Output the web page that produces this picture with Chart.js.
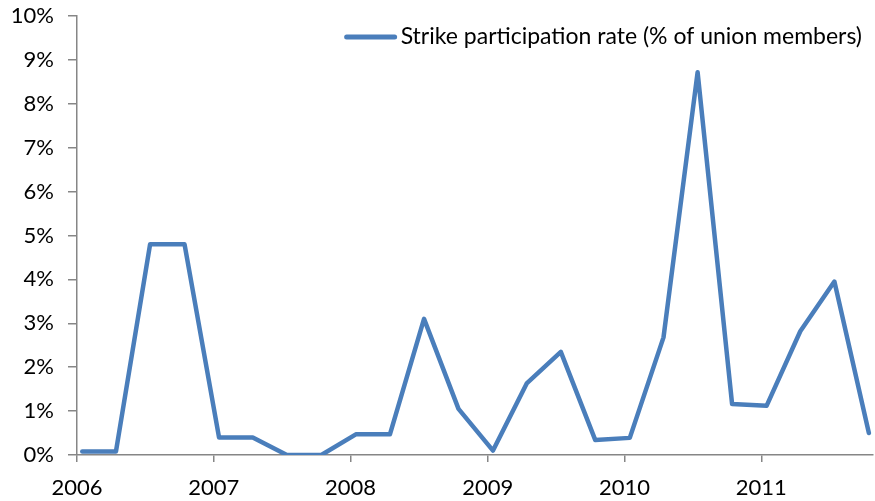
<!DOCTYPE html>
<html>
<head>
<meta charset="utf-8">
<script src="https://cdn.jsdelivr.net/npm/chart.js@4/dist/chart.umd.min.js"></script>
<style>
  html, body { margin: 0; padding: 0; background: #fff; }
  #wrap { width: 875px; height: 501px; position: relative; }
</style>
</head>
<body>
<div id="wrap"><canvas id="c" width="875" height="501"></canvas></div>
<script>
const seriesLabel = 'Strike participation rate (% of union members)';
const dates = [
  '2006-01-15','2006-04-15','2006-07-15','2006-10-15',
  '2007-01-15','2007-04-15','2007-07-15','2007-10-15',
  '2008-01-15','2008-04-15','2008-07-15','2008-10-15',
  '2009-01-15','2009-04-15','2009-07-15','2009-10-15',
  '2010-01-15','2010-04-15','2010-07-15','2010-10-15',
  '2011-01-15','2011-04-15','2011-07-15','2011-10-15'
];
const rates = [
  0.08, 0.08, 4.80, 4.80,
  0.40, 0.40, 0.00, 0.00,
  0.47, 0.47, 3.10, 1.05,
  0.10, 1.63, 2.35, 0.34,
  0.39, 2.68, 8.72, 1.16,
  1.12, 2.82, 3.95, 0.50
];
const yearTicks = [2006, 2007, 2008, 2009, 2010, 2011];
const yTicks = [0,1,2,3,4,5,6,7,8,9,10];

const toMs = s => Date.parse(s + 'T00:00:00Z');
const points = dates.map((d, i) => ({ x: toMs(d), y: rates[i] }));
const FONT = 'Lato';
const FSIZE = 22;
const blue = '#4A7EBB';
const axisGray = '#868686';

const insideLegend = {
  id: 'insideLegend',
  afterDraw(chart) {
    const ctx = chart.ctx;
    const ds = chart.data.datasets[0];
    const area = chart.chartArea;
    ctx.save();
    ctx.font = '23px ' + FONT;
    ctx.fillStyle = '#000';
    ctx.textAlign = 'right';
    ctx.textBaseline = 'middle';
    const textRight = area.right - 11;
    const y = area.top + 21;
    ctx.fillText(ds.label, textRight, y);
    const w = ctx.measureText(ds.label).width;
    const lineEnd = textRight - w - 6;
    ctx.strokeStyle = ds.borderColor;
    ctx.lineWidth = 5;
    ctx.lineCap = 'round';
    ctx.beginPath();
    ctx.moveTo(lineEnd - 48, y);
    ctx.lineTo(lineEnd, y);
    ctx.stroke();
    ctx.restore();
  }
};

new Chart(document.getElementById('c'), {
  type: 'line',
  data: {
    datasets: [{
      label: seriesLabel,
      data: points,
      borderColor: blue,
      backgroundColor: blue,
      borderWidth: 4.5,
      pointRadius: 0,
      pointHoverRadius: 0,
      tension: 0,
      borderJoinStyle: 'round',
      borderCapStyle: 'round',
      fill: false
    }]
  },
  plugins: [insideLegend],
  options: {
    responsive: false,
    animation: false,
    events: [],
    layout: { padding: { top: 16, right: 2, left: 0, bottom: 0 } },
    plugins: {
      tooltip: { enabled: false },
      legend: { display: false }
    },
    scales: {
      x: {
        type: 'linear',
        min: toMs('2006-01-01'),
        max: toMs('2011-10-26'),
        afterBuildTicks: s => { s.ticks = yearTicks.map(y => ({ value: Date.UTC(y, 0, 1) })); },
        afterFit: s => { s.height = 46; s.paddingLeft = 0; s.paddingRight = 0; },
        ticks: {
          color: '#000',
          font: { family: FONT, size: FSIZE },
          padding: 13,
          maxRotation: 0,
          autoSkip: false,
          callback: v => String(new Date(v).getUTCFullYear())
        },
        grid: { drawOnChartArea: false, drawTicks: true, tickLength: 7, color: axisGray, lineWidth: 1.5 },
        border: { display: true, color: axisGray, width: 1.5 }
      },
      y: {
        min: 0,
        max: 10,
        afterBuildTicks: s => { s.ticks = yTicks.map(v => ({ value: v })); },
        afterFit: s => { s.width = 77; s.paddingTop = 0; s.paddingBottom = 0; },
        ticks: {
          color: '#000',
          font: { family: FONT, size: FSIZE },
          padding: 14,
          callback: v => v + '%'
        },
        grid: { drawOnChartArea: false, drawTicks: true, tickLength: 9, color: axisGray, lineWidth: 1.5 },
        border: { display: true, color: axisGray, width: 1.5 }
      }
    }
  }
});
</script>
</body>
</html>
